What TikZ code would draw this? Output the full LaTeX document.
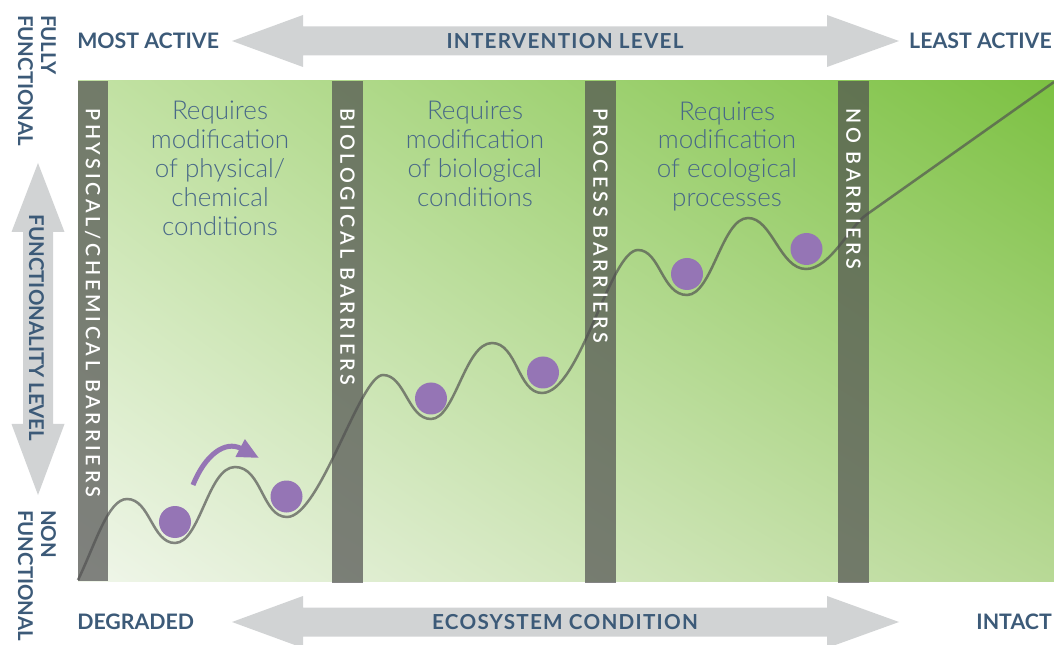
\documentclass[tikz,border=0pt]{standalone}
\usepackage{fontspec}
\setmainfont{Lato}
\newfontfamily\lightfont{Lato Light}
\newfontfamily\barfont{Lato Semibold}[LetterSpace=19]
\newfontfamily\spacedfont{Lato}[LetterSpace=6]
\usetikzlibrary{arrows.meta,shadings}

\definecolor{headblue}{RGB}{60,90,120}
\definecolor{bodyblue}{RGB}{72,104,136}
\definecolor{arrowgray}{RGB}{209,211,212}
\definecolor{ballpurple}{RGB}{149,117,181}
\definecolor{bargray}{RGB}{80,80,80}
\definecolor{palegreen}{RGB}{240,246,234}
\definecolor{tlgreen}{RGB}{195,226,165}
\definecolor{brgreen}{RGB}{184,217,150}
\definecolor{brightgreen}{RGB}{124,193,66}

\begin{document}
\begin{tikzpicture}[x=0.75pt,y=0.75pt,yscale=-1,xscale=1,
	head/.style={font=\fontsize{16}{17.25}\selectfont\bfseries, text=headblue, inner sep=0pt},
	sidehead/.style={font=\fontsize{15.3}{17.25}\selectfont\bfseries, text=headblue, inner sep=0pt, rotate=-90},
	axistitle/.style={font=\spacedfont\fontsize{15.5}{17.25}\selectfont\bfseries, text=headblue, inner sep=0pt},
	body/.style={font=\lightfont\fontsize{19.5}{21.6}\selectfont, text=bodyblue, align=center, inner sep=0pt},
	barlabel/.style={font=\barfont\fontsize{14.8}{14.8}\selectfont, text=white, rotate=-90, anchor=west, inner sep=0pt, text height=10.7pt, text depth=0pt},
	ball/.style={circle, fill=ballpurple, minimum size=24pt, inner sep=0pt},
	bigarrow/.style={fill=arrowgray},
	barrier/.style={fill=bargray, fill opacity=0.7},
	landscape/.style={draw=bargray, draw opacity=0.68, line width=1.9pt, line join=round},
	kick/.style={draw=ballpurple, line width=3.75pt, -{Triangle[length=16pt,width=14pt]}}]
	\useasboundingbox (0,0) rectangle (1054,645);
	% grey double arrows
	\fill[bigarrow] (232,41) -- (303,15) -- (303,26.5) -- (827,26.5) -- (827,15) -- (899,41) -- (827,67) -- (827,55.5) -- (303,55.5) -- (303,67) -- cycle;
	\fill[bigarrow] (232,622) -- (303,596) -- (303,607.5) -- (827,607.5) -- (827,596) -- (899,622) -- (827,648) -- (827,636.5) -- (303,636.5) -- (303,648) -- cycle;
	\fill[bigarrow] (38,163) -- (64.5,232) -- (53,232) -- (53,424) -- (64.5,424) -- (38,495) -- (11.5,424) -- (23,424) -- (23,232) -- (11.5,232) -- cycle;
	% axis texts
	\node[head, anchor=west] (mostactive) at (77,41) {MOST ACTIVE};
	\node[axistitle] (intervention) at (565,41) {INTERVENTION LEVEL};
	\node[head, anchor=east] (leastactive) at (1052,41) {LEAST ACTIVE};
	\node[head, anchor=west] (degraded) at (77,622) {DEGRADED};
	\node[axistitle] (ecosystem) at (565,622) {ECOSYSTEM CONDITION};
	\node[head, anchor=east] (intact) at (1052,622) {INTACT};
	\node[sidehead, anchor=west, align=left] (fullyfn) at (37,15) {FULLY\\FUNCTIONAL};
	\node[sidehead] (funclevel) at (36.5,328) {FUNCTIONALITY LEVEL};
	\node[sidehead, anchor=west, align=left] (nonfn) at (37,510) {NON\\FUNCTIONAL};
	% panel and barriers
	\shade[upper left=tlgreen, upper right=brightgreen, lower left=palegreen, lower right=brgreen] (78,81) rectangle (1054,581);
	\foreach \xl/\xr/\yb in {78/108/581, 332/363/583, 585/616/583, 838/869/583}
		\fill[barrier] (\xl,81) rectangle (\xr,\yb);
	% landscape line
	\draw[landscape] (78,580) .. controls (95,545) and (108,499) .. (127,499)
		.. controls (150,499) and (152,543) .. (175,543)
		.. controls (200,543) and (208,467) .. (235,467)
		.. controls (262,467) and (262,517) .. (287,517)
		.. controls (320,517) and (360,375) .. (383,375)
		.. controls (405,375) and (408,419) .. (431,419)
		.. controls (455,419) and (465,343) .. (492,343)
		.. controls (517,343) and (518,393) .. (542,393)
		.. controls (580,393) and (610,250) .. (638,250)
		.. controls (660,250) and (662,295) .. (687,295)
		.. controls (712,295) and (722,218) .. (748,218)
		.. controls (772,218) and (780,269) .. (806,269)
		.. controls (830,269) and (850,226) .. (866,215)
		-- (1054,82);
	% balls
	\foreach \p [count=\i] in {(175,522),(286.5,496.5),(431,398.5),(543,372.5),(687,274),(806.5,249)}
		\node[ball] (ball\i) at \p {};
	\coordinate (kickstart) at (193,485);
	\coordinate (kickend) at (259,458);
	\draw[kick] (kickstart) .. controls (205,455) and (225,440) .. (kickend);
	% barrier labels
	\node[barlabel] (physbar) at (93,108) {PHYSICAL/CHEMICAL BARRIERS};
	\node[barlabel] (biobar) at (347.5,108) {BIOLOGICAL BARRIERS};
	\node[barlabel] (procbar) at (600.5,108) {PROCESS BARRIERS};
	\node[barlabel] (nobar) at (853.5,108) {NO BARRIERS};
	% zone texts
	\node[body] (physreq) at (220,168.3) {Requires\\modification\\of physical/\\chemical\\conditions};
	\node[body] (bioreq) at (475,153.9) {Requires\\modification\\of biological\\conditions};
	\node[body] (ecoreq) at (727,156.3) {Requires\\modification\\of ecological\\processes};
\end{tikzpicture}
\end{document}
